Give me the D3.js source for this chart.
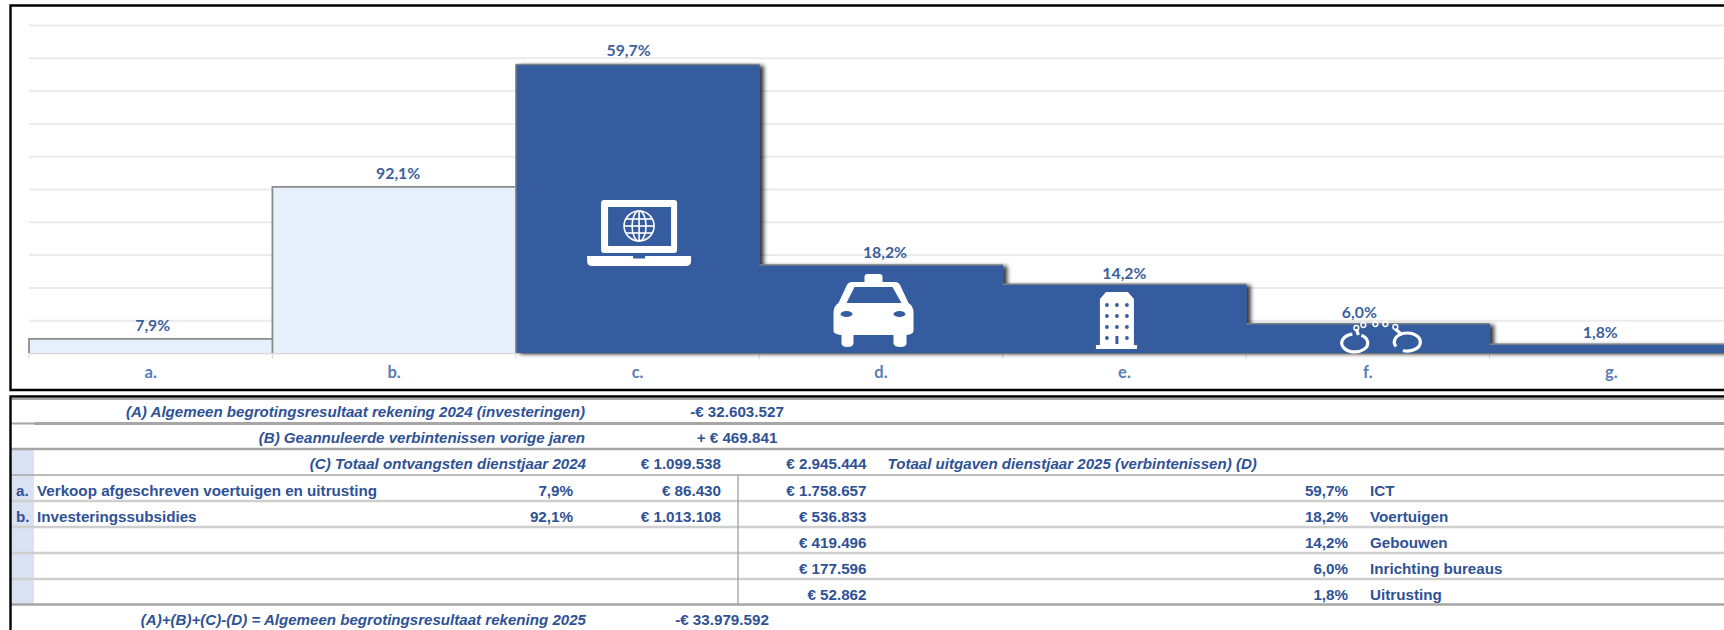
<!DOCTYPE html>
<html><head><meta charset="utf-8">
<script src="https://cdn.jsdelivr.net/npm/d3@7"></script>
<style>
html,body{margin:0;padding:0;background:#fff;overflow:hidden}
svg{display:block}
.tbl text{font-family:"Liberation Sans",Arial,sans-serif;font-weight:700;font-size:15.2px;fill:#2f5296}
.tbl text.it{font-style:italic;font-size:15.1px}
.cal{font-family:Lato,Carlito,sans-serif;font-weight:700}
</style></head><body>
<svg id="c" width="1724" height="630"></svg>
<script>
// ---- chart data ----
const categories = ["a.","b.","c.","d.","e.","f.","g."];
const amounts    = [86430,1013108,1758657,536833,419496,177596,52862];
const pctLabels  = ["7,9%","92,1%","59,7%","18,2%","14,2%","6,0%","1,8%"];
const lightCats  = ["a.","b."];
const yTicks     = [0,200000,400000,600000,800000,1000000,1200000,1400000,1600000,1800000,2000000];
// ---- table data ----
const summaryTop = [
  ["(A) Algemeen begrotingsresultaat rekening 2024 (investeringen)","-€ 32.603.527"],
  ["(B) Geannuleerde verbintenissen vorige jaren","+ € 469.841"]];
const totalLeft  = ["(C) Totaal ontvangsten dienstjaar 2024","€ 1.099.538"];
const totalRight = ["€ 2.945.444","Totaal uitgaven dienstjaar 2025 (verbintenissen) (D)"];
const incomeRows = [
  ["a.","Verkoop afgeschreven voertuigen en uitrusting","7,9%","€ 86.430"],
  ["b.","Investeringssubsidies","92,1%","€ 1.013.108"]];
const spendAmts  = ["€ 1.758.657","€ 536.833","€ 419.496","€ 177.596","€ 52.862"];
const spendPcts  = ["59,7%","18,2%","14,2%","6,0%","1,8%"];
const spendNames = ["ICT","Voertuigen","Gebouwen","Inrichting bureaus","Uitrusting"];
const summaryEnd = ["(A)+(B)+(C)-(D) = Algemeen begrotingsresultaat rekening 2025","-€ 33.979.592"];

const BAR="#355c9f", LBL="#3d5f9d", LIGHT="#e6effc";
const svg=d3.select("#c");
const defs=svg.append("defs");
defs.append("filter").attr("id","sh").attr("x","-5%").attr("y","-5%").attr("width","115%").attr("height","115%")
  .append("feDropShadow").attr("dx",4).attr("dy",1).attr("stdDeviation",2).attr("flood-color","#000").attr("flood-opacity",.8);

const base=353;
const x=d3.scaleBand().domain(categories).range([29,1733]).paddingInner(0).paddingOuter(0);
const y=d3.scaleLinear().domain([0,2000000]).range([base,25]);

// gridlines
const grid=svg.append("g").attr("transform","translate(29,0)").call(
  d3.axisLeft(y).tickValues(yTicks).tickSize(-1704).tickFormat(""));
grid.select(".domain").remove();
grid.selectAll("line").attr("stroke","#ebebeb").attr("stroke-width",2);
grid.selectAll(".tick").filter(d=>d===0).select("line").attr("stroke","#d9d9d9").attr("stroke-width",1.5);

// boundary ticks
svg.append("g").selectAll("line").data(categories.slice(0).concat(["end"])).join("line")
  .attr("x1",(d,i)=>29+i*x.step()).attr("x2",(d,i)=>29+i*x.step())
  .attr("y1",base).attr("y2",base+6).attr("stroke","#d9d9d9");

// dark bars (shadow falls on the union)
const isLight=d=>lightCats.includes(d.c);
const data=categories.map((c,i)=>({c,v:amounts[i],l:pctLabels[i]}));
svg.append("g").attr("filter","url(#sh)").selectAll("rect").data(data.filter(d=>!isLight(d))).join("rect")
  .attr("x",d=>x(d.c)).attr("width",x.bandwidth()+.5).attr("y",d=>y(d.v)).attr("height",d=>base-y(d.v)).attr("fill",BAR);
// thin grey top edges on dark bars
svg.append("g").selectAll("line").data(data.filter(d=>!isLight(d))).join("line")
  .attr("x1",d=>x(d.c)).attr("x2",d=>x(d.c)+x.bandwidth()).attr("y1",d=>y(d.v)).attr("y2",d=>y(d.v))
  .attr("stroke","#7b7f88").attr("stroke-width",1.5);
// light bars
svg.append("g").selectAll("rect").data(data.filter(isLight)).join("rect")
  .attr("x",d=>x(d.c)).attr("width",x.bandwidth()).attr("y",d=>y(d.v)).attr("height",d=>base-y(d.v))
  .attr("fill",LIGHT);
svg.append("g").selectAll("path").data(data.filter(isLight)).join("path")
  .attr("d",d=>`M${x(d.c)},${base}V${y(d.v)}H${x(d.c)+x.bandwidth()}`)
  .attr("fill","none").attr("stroke","#8c8c8c").attr("stroke-width",1.8);
svg.append("line").attr("x1",x("c.")).attr("x2",x("c.")).attr("y1",y(amounts[2])).attr("y2",base).attr("stroke","#7f8590").attr("stroke-width",1.5);

// data labels (nudges mirror the off-centre placement in the original)
const nudgeX={"a.":2,"b.":4,"c.":-9,"d.":4,"e.":0,"f.":-8.5,"g.":-11};
const nudgeY={"a.":-1,"b.":-1,"c.":-2,"d.":0,"e.":2,"f.":1,"g.":1};
svg.append("g").selectAll("text").data(data).join("text").attr("class","cal")
  .attr("x",d=>x(d.c)+x.bandwidth()/2+nudgeX[d.c])
  .attr("y",d=>y(d.v)-7+nudgeY[d.c]).attr("text-anchor","middle").attr("font-size",15.8).attr("fill",LBL).text(d=>d.l);

// category axis
const ax=svg.append("g").attr("transform",`translate(0,${base})`).call(d3.axisBottom(x).tickSize(0).tickPadding(13));
ax.select(".domain").remove();
ax.selectAll("text").attr("class","cal").attr("font-size",16.5).attr("font-weight",400).attr("fill","#5a7cb5").style("font-family","Lato,sans-serif");

// ---- icons, drawn in local coordinates at their band ----
const at=(c,dx)=>`translate(${x(c)+x.bandwidth()/2+dx},${base})`;
// laptop
const lap=svg.append("g").attr("transform",at("c.",1.5));
lap.append("rect").attr("x",-38).attr("y",-153).attr("width",76).attr("height",53).attr("rx",3).attr("fill","#fff");
lap.append("rect").attr("x",-31).attr("y",-146).attr("width",63).attr("height",39).attr("fill",BAR);
lap.append("path").attr("d","M-52,-97H52V-92Q52,-87 47,-87H-47Q-52,-87 -52,-92Z").attr("fill","#fff");
lap.append("rect").attr("x",-6).attr("y",-97).attr("width",12).attr("height",2.5).attr("fill",BAR);
const gl=lap.append("g").attr("transform","translate(0,-127)").attr("fill","none").attr("stroke","#fff").attr("stroke-width",1.6);
gl.append("circle").attr("r",15);
gl.append("ellipse").attr("rx",7).attr("ry",15);
gl.append("line").attr("y1",-15).attr("y2",15);
[-7,0,7].forEach(v=>gl.append("line").attr("x1",-Math.sqrt(225-v*v)).attr("x2",Math.sqrt(225-v*v)).attr("y1",v).attr("y2",v));
// taxi
const taxi=svg.append("g").attr("transform",at("d.",-7.5));
taxi.append("path").attr("d","M-9,-70V-76Q-9,-79 -6,-79H6Q9,-79 9,-76V-70Z").attr("fill","#fff");
taxi.append("path").attr("d","M-22,-71L22,-71Q26,-71 28,-65L35,-50Q40,-47 40,-40L40,-22Q40,-19 33,-18L33,-10Q33,-6 27,-6Q20,-6 20,-10L20,-18L-20,-18L-20,-10Q-20,-6 -26,-6Q-32,-6 -32,-10L-32,-18Q-40,-19 -40,-22L-40,-40Q-40,-47 -35,-50L-28,-65Q-26,-71 -22,-71Z").attr("fill","#fff");
taxi.append("path").attr("d","M-19,-66L19,-66L28,-50L-27,-50Z").attr("fill",BAR);
[-27,26].forEach(v=>taxi.append("ellipse").attr("cx",v).attr("cy",-39).attr("rx",6).attr("ry",3).attr("fill",BAR));
// building
const bld=svg.append("g").attr("transform",at("e.",-7.5));
bld.append("path").attr("d","M-17,-8V-54L-11,-61H11L17,-54V-8H20V-4H-21V-8Z").attr("fill","#fff");
[-10,0,10].forEach(wx=>[-48,-37,-26,-15].forEach(wy=>{
  if(wx===0&&wy===-15) bld.append("rect").attr("x",-1.5).attr("y",-17).attr("width",3).attr("height",8).attr("fill",BAR);
  else bld.append("circle").attr("cx",wx).attr("cy",wy).attr("r",1.9).attr("fill",BAR);
}));
// handcuffs
const cuf=svg.append("g").attr("transform",at("f.",15.5)).attr("fill","none").attr("stroke","#fff");
cuf.append("path").attr("stroke-width",3.2).attr("d","M-22,-17.8A13,9 0 1 1 -31,-18.9M-27,-24L-25,-18");
cuf.append("path").attr("stroke-width",3.2).attr("d","M12.7,-6.5A13,9 0 1 1 19.6,-2.5M12,-24L19,-18");
[[-27,-25],[-20,-28],[-8,-29],[2,-29],[12,-26]].forEach(p=>cuf.append("circle").attr("cx",p[0]).attr("cy",p[1]).attr("r",2.4).attr("stroke-width",1.5));

// ---- frames ----
svg.append("path").attr("d","M1730,5.5H10.5V390H1730").attr("fill","none").attr("stroke","#000").attr("stroke-width",2.4);

// ---- table ----
const t=svg.append("g").attr("class","tbl");
const lines=[ // y, x1, width, colour
 [398.5,11,3,"#a6a6a6"],[423.5,11,2,"#a6a6a6"],[423.5,34,3,"#a6a6a6"],[449,11,2.4,"#a6a6a6"],
 [475,11,1.6,"#a6a6a6"],[501,11,2.6,"#cfcfcf"],[527,11,2.6,"#cfcfcf"],[553,11,2.6,"#cfcfcf"],[579,11,2.6,"#cfcfcf"],[604.5,11,2.4,"#a6a6a6"]];
t.append("rect").attr("x",11).attr("y",450).attr("width",23).attr("height",154).attr("fill","#d9e1f2");
lines.forEach(l=>t.append("line").attr("x1",l[1]).attr("x2",1724).attr("y1",l[0]).attr("y2",l[0]).attr("stroke",l[3]).attr("stroke-width",l[2]));
t.append("line").attr("x1",738).attr("x2",738).attr("y1",475).attr("y2",604).attr("stroke","#a6a6a6").attr("stroke-width",1.4);
t.append("path").attr("d","M1730,396.4H10.5V630").attr("fill","none").attr("stroke","#000").attr("stroke-width",2.4);

const put=(s,px,py,anchor,it)=>t.append("text").attr("x",px).attr("y",py+5).attr("text-anchor",anchor).attr("class",it?"it":null).text(s);
const rowY=[491,516.7,542.7,569,594.7];
summaryTop.forEach((r,i)=>{const py=[411.5,438][i];put(r[0],585,py,"end",true);put(r[1],737,py,"middle",false);});
put(totalLeft[0],586,464,"end",true);put(totalLeft[1],721,464,"end",false);
put(totalRight[0],866.5,464,"end",false);put(totalRight[1],887.5,464,"start",true);
incomeRows.forEach((r,i)=>{put(r[0],16,rowY[i],"start");put(r[1],37,rowY[i],"start");put(r[2],573,rowY[i],"end");put(r[3],721,rowY[i],"end");});
spendAmts.forEach((s,i)=>{put(s,866.5,rowY[i],"end");put(spendPcts[i],1348,rowY[i],"end");put(spendNames[i],1370,rowY[i],"start");});
put(summaryEnd[0],586,620,"end",true);put(summaryEnd[1],722,620,"middle",false);
</script></body></html>
